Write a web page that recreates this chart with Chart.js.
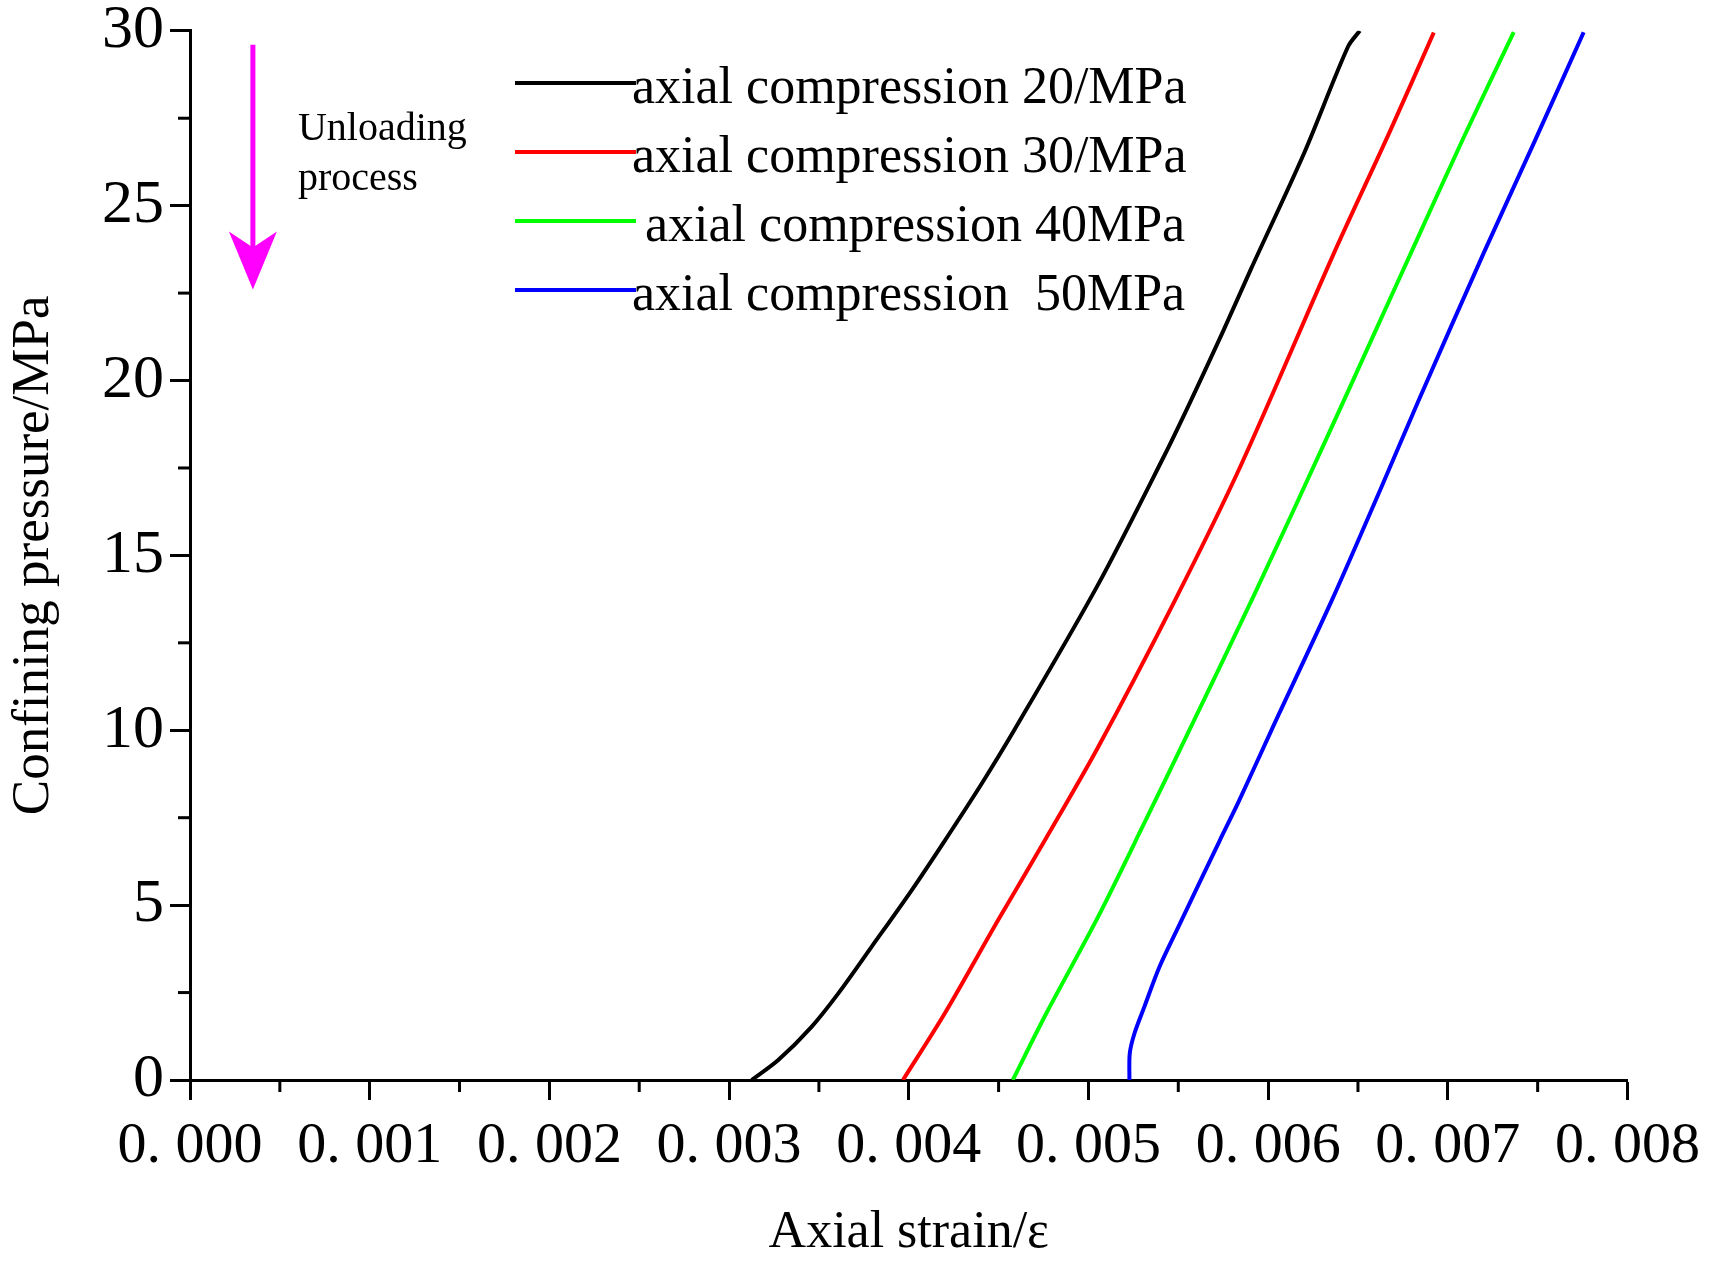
<!DOCTYPE html>
<html>
<head>
<meta charset="utf-8">
<script src="https://cdn.jsdelivr.net/npm/chart.js@4.4.1/dist/chart.umd.min.js"></script>
<style>
  html, body { margin: 0; padding: 0; background: #fff; }
  #wrap { width: 1712px; height: 1265px; position: relative; }
</style>
</head>
<body>
<div id="wrap"><canvas id="strainChart"></canvas></div>
<script>
// values (strain, confining pressure in MPa)
const strain20   = [0.003126, 0.003274, 0.003459, 0.003607, 0.003792, 0.004014, 0.004200, 0.004403, 0.004589, 0.005052, 0.005422, 0.005565, 0.005746, 0.005903, 0.006200, 0.006445, 0.006510];
const pressure20 = [0,        0.57,     1.52,     2.47,     3.80,     5.41,     6.84,     8.45,     10.02,    14.15,    17.85,    19.37,    21.37,    23.17,    26.50,    29.55,    30.0];

const strain30   = [0.003968, 0.004200, 0.004496, 0.004756, 0.005052, 0.005478, 0.005848, 0.006367, 0.006681, 0.006922];
const pressure30 = [0,        1.90,     4.56,     6.84,     9.50,     13.68,    17.57,    23.65,    27.16,    29.95];

const strain40   = [0.004579, 0.004765, 0.005052, 0.005299, 0.005563, 0.005925, 0.006315, 0.006593, 0.006795, 0.007090, 0.007367];
const pressure40 = [0,        1.90,     4.65,     7.22,     10.02,    13.90,    18.23,    21.37,    23.65,    26.97,    29.96];

const strain50   = [0.005228, 0.005230, 0.005256, 0.005311, 0.005395, 0.005500, 0.005730, 0.005838, 0.006020, 0.006355, 0.006626, 0.006835, 0.007200, 0.007478, 0.007756];
const pressure50 = [0,        0.76,     1.33,     2.09,     3.23,     4.37,     6.84,     7.98,     10.02,    13.72,    16.90,    19.40,    23.65,    26.78,    29.96];

const legendLabels = ['axial compression 20/MPa', 'axial compression 30/MPa', ' axial compression 40MPa', 'axial compression  50MPa'];
const lineColors = ['#000000', '#ff0000', '#00ff00', '#0000ff'];

// arrow annotation, in data units
const arrowStrain = 0.00035;
const arrowTop = 29.6;
const arrowTip = 22.6;

function pairs(xs, ys) {
  return xs.map((x, i) => ({ x: x, y: ys[i] }));
}

const serif = '"Liberation Serif", "Times New Roman", serif';

const minorTicks = {        // half-step ticks drawn from the scales
  id: 'minorTicks',
  afterDraw(chart) {
    const ctx = chart.ctx;
    const xs = chart.scales.x, ys = chart.scales.y;
    ctx.save();
    ctx.strokeStyle = '#000';
    ctx.lineWidth = 3;
    for (let i = 1; i < xs.ticks.length; i++) {
      const px = xs.getPixelForValue((xs.ticks[i].value + xs.ticks[i - 1].value) / 2);
      ctx.beginPath(); ctx.moveTo(px, xs.top); ctx.lineTo(px, xs.top + 12); ctx.stroke();
    }
    for (let i = 1; i < ys.ticks.length; i++) {
      const py = ys.getPixelForValue((ys.ticks[i].value + ys.ticks[i - 1].value) / 2);
      ctx.beginPath(); ctx.moveTo(ys.right, py); ctx.lineTo(ys.right - 12, py); ctx.stroke();
    }
    ctx.restore();
  }
};

const insideLegend = {       // legend lines + labels inside the plot
  id: 'insideLegend',
  afterDraw(chart) {
    const ctx = chart.ctx;
    ctx.save();
    ctx.font = '52px ' + serif;
    ctx.textBaseline = 'middle';
    chart.data.datasets.forEach((ds, i) => {
      const y = 83 + i * 69;
      ctx.strokeStyle = ds.borderColor;
      ctx.lineWidth = 4;
      ctx.beginPath(); ctx.moveTo(515, y); ctx.lineTo(636, y); ctx.stroke();
      ctx.fillStyle = '#000';
      ctx.fillText(ds.label, 632, y + 6);
    });
    ctx.restore();
  }
};

const unloadArrow = {
  id: 'unloadArrow',
  afterDraw(chart) {
    const ctx = chart.ctx;
    const x = chart.scales.x.getPixelForValue(arrowStrain);
    const y1 = chart.scales.y.getPixelForValue(arrowTop);
    const y2 = chart.scales.y.getPixelForValue(arrowTip);
    ctx.save();
    ctx.strokeStyle = '#ff00ff';
    ctx.fillStyle = '#ff00ff';
    ctx.lineWidth = 5;
    ctx.beginPath(); ctx.moveTo(x, y1); ctx.lineTo(x, y2 - 40); ctx.stroke();
    ctx.beginPath();
    ctx.moveTo(x, y2);
    ctx.lineTo(x - 24, y2 - 58);
    ctx.lineTo(x, y2 - 42);
    ctx.lineTo(x + 24, y2 - 58);
    ctx.closePath();
    ctx.fill();
    ctx.fillStyle = '#000';
    ctx.font = '40px ' + serif;
    ctx.textBaseline = 'middle';
    ctx.fillText('Unloading', x + 45, y1 + 85);
    ctx.fillText('process', x + 45, y1 + 135);
    ctx.restore();
  }
};

const whiteBg = {
  id: 'whiteBg',
  beforeDraw(chart) {
    const ctx = chart.ctx;
    ctx.save();
    ctx.fillStyle = '#fff';
    ctx.fillRect(0, 0, chart.width, chart.height);
    ctx.restore();
  }
};

const ctx = document.getElementById('strainChart').getContext('2d');
const strainChart = new Chart(ctx, {
  type: 'scatter',
  data: {
    datasets: [
      { label: legendLabels[0], data: pairs(strain20, pressure20), borderColor: lineColors[0] },
      { label: legendLabels[1], data: pairs(strain30, pressure30), borderColor: lineColors[1] },
      { label: legendLabels[2], data: pairs(strain40, pressure40), borderColor: lineColors[2] },
      { label: legendLabels[3], data: pairs(strain50, pressure50), borderColor: lineColors[3] },
    ].map(ds => Object.assign(ds, {
      showLine: true,
      pointRadius: 0,
      borderWidth: 4,
      tension: 0.3,
      fill: false,
    })),
  },
  options: {
    responsive: true,
    maintainAspectRatio: false,
    animation: false,
    layout: {
      autoPadding: false,
      padding: { top: 27, right: 76, bottom: 0, left: 0 },
    },
    plugins: {
      legend: { display: false },
      tooltip: { enabled: false },
    },
    scales: {
      x: {
        type: 'linear',
        min: 0,
        max: 0.008,
        afterFit: function (scale) { scale.height = 185; },
        border: { display: true, color: '#000', width: 3 },
        grid: { drawOnChartArea: false, drawTicks: true, tickLength: 20, tickWidth: 3, tickColor: '#000' },
        ticks: {
          stepSize: 0.001,
          padding: 12,
          color: '#000',
          font: { family: serif, size: 58 },
          maxRotation: 0,
          autoSkip: false,
          callback: function (value) {
            return value.toFixed(3).replace('.', '. ');
          },
        },
        title: {
          display: true,
          text: 'Axial strain/ε',
          color: '#000',
          font: { family: serif, size: 52 },
          padding: { top: 0, bottom: 0 },
        },
      },
      y: {
        min: 0,
        max: 30,
        afterFit: function (scale) { scale.width = 190; },
        border: { display: true, color: '#000', width: 3 },
        grid: { drawOnChartArea: false, drawTicks: true, tickLength: 20, tickWidth: 3, tickColor: '#000' },
        ticks: {
          stepSize: 5,
          padding: 6,
          color: '#000',
          font: { family: serif, size: 62, lineHeight: 0.8 },
        },
        title: {
          display: true,
          text: 'Confining pressure/MPa',
          color: '#000',
          font: { family: serif, size: 53 },
          padding: { top: 2, bottom: 2 },
        },
      },
    },
  },
  plugins: [whiteBg, minorTicks, insideLegend, unloadArrow],
});
</script>
</body>
</html>
